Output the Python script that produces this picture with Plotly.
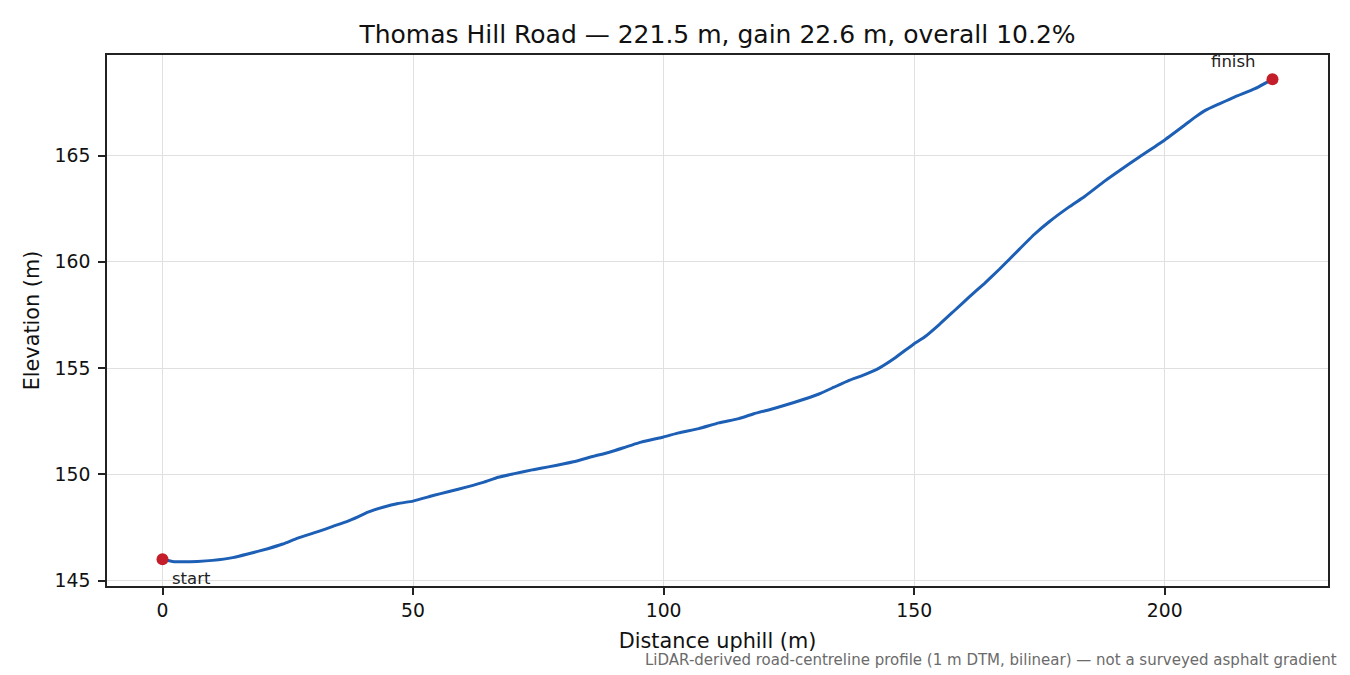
import plotly.graph_objects as go

# ---- data ----
distance_m = [0, 2, 4, 7, 10, 14, 17, 21, 24, 27, 31, 34, 37, 39, 41, 44, 47, 50,
              54, 57, 61, 64, 67, 70, 74, 77, 82, 86, 89, 92, 95, 100, 103, 107,
              111, 115, 118, 122, 126, 131, 134, 137, 140, 143, 146, 150, 152, 155,
              158, 161, 164, 167, 171, 174, 177, 181, 184, 188, 191, 195, 200, 204,
              206, 208, 211, 214, 218, 221.5]
elevation_m = [146.0, 145.9, 145.88, 145.9, 145.95, 146.08, 146.25, 146.5, 146.72,
               147.0, 147.3, 147.55, 147.8, 148.0, 148.22, 148.45, 148.63, 148.74,
               149.0, 149.18, 149.42, 149.62, 149.86, 150.02, 150.22, 150.35, 150.59,
               150.85, 151.03, 151.25, 151.48, 151.76, 151.95, 152.15, 152.42, 152.62,
               152.85, 153.1, 153.38, 153.78, 154.1, 154.42, 154.68, 155.0, 155.45,
               156.15, 156.45, 157.05, 157.7, 158.35, 158.98, 159.65, 160.6, 161.3,
               161.9, 162.6, 163.08, 163.8, 164.3, 164.95, 165.74, 166.44, 166.8,
               167.12, 167.45, 167.77, 168.15, 168.6]
x_ticks = [0, 50, 100, 150, 200]
y_ticks = [145, 150, 155, 160, 165]
endpoint_labels = ["start", "finish"]
title_text = "Thomas Hill Road — 221.5 m, gain 22.6 m, overall 10.2%"
note_text = "LiDAR-derived road-centreline profile (1 m DTM, bilinear) — not a surveyed asphalt gradient"

FONT = "DejaVu Sans"
LINE_BLUE = "#1c5fb5"
DOT_RED = "#c41e2a"

# the page body has an 8px margin; size the figure so the plot lands where the reference has it
W, H = 1342, 667

# matplotlib-like 5% margins
xmin, xmax = min(distance_m), max(distance_m)
ymin, ymax = min(elevation_m), max(elevation_m)
xpad = 0.05 * (xmax - xmin)
ypad = 0.05 * (ymax - ymin)

fig = go.Figure()
fig.add_trace(go.Scatter(
    x=distance_m, y=elevation_m, mode="lines",
    line=dict(color=LINE_BLUE, width=3, shape="spline", smoothing=0.4),
    showlegend=False, hoverinfo="skip"))
fig.add_trace(go.Scatter(
    x=[distance_m[0], distance_m[-1]], y=[elevation_m[0], elevation_m[-1]],
    mode="markers", marker=dict(color=DOT_RED, size=12),
    showlegend=False, hoverinfo="skip"))

fig.add_annotation(x=distance_m[0], y=elevation_m[0], text=endpoint_labels[0],
                   showarrow=False, xanchor="left", yanchor="middle",
                   xshift=7, yshift=-19, font=dict(family=FONT, size=16.5, color="#222"))
fig.add_annotation(x=distance_m[-1], y=elevation_m[-1], text=endpoint_labels[1],
                   showarrow=False, xanchor="right", yanchor="middle",
                   xshift=-15, yshift=18, font=dict(family=FONT, size=16.5, color="#222"))
fig.add_annotation(xref="paper", yref="paper", x=(1331 - 99) / 1221, y=-0.139, text=note_text,
                   showarrow=False, xanchor="right", yanchor="middle",
                   font=dict(family=FONT, size=15, color="#6b6b6b"))

axis_common = dict(
    showline=True, linecolor="#222222", linewidth=1.6, mirror=True,
    ticks="outside", ticklen=7, tickwidth=1.6, tickcolor="#222222",
    showgrid=True, gridcolor="#e0e0e0", gridwidth=1.3, zeroline=False,
    tickfont=dict(family=FONT, size=18.8, color="#111"),
)

fig.update_layout(
    width=W, height=H,
    margin=dict(l=99, r=22, t=47, b=89),
    paper_bgcolor="white", plot_bgcolor="white",
    font=dict(family=FONT, color="#111"),
    title=dict(text=title_text, x=0.5, xref="paper", xanchor="center",
               y=1 - 26 / H, yref="container", yanchor="middle",
               font=dict(family=FONT, size=25, color="#111")),
    xaxis=dict(axis_common, range=[xmin - xpad, xmax + xpad], tickvals=x_ticks,
               title=dict(text="Distance uphill (m)", standoff=13,
                          font=dict(family=FONT, size=20.8, color="#111"))),
    yaxis=dict(axis_common, range=[ymin - ypad, ymax + ypad], tickvals=y_ticks,
               ticklabelstandoff=4,
               title=dict(text="Elevation (m)", standoff=9,
                          font=dict(family=FONT, size=20.8, color="#111"))),
)

fig.write_html("out.html")
